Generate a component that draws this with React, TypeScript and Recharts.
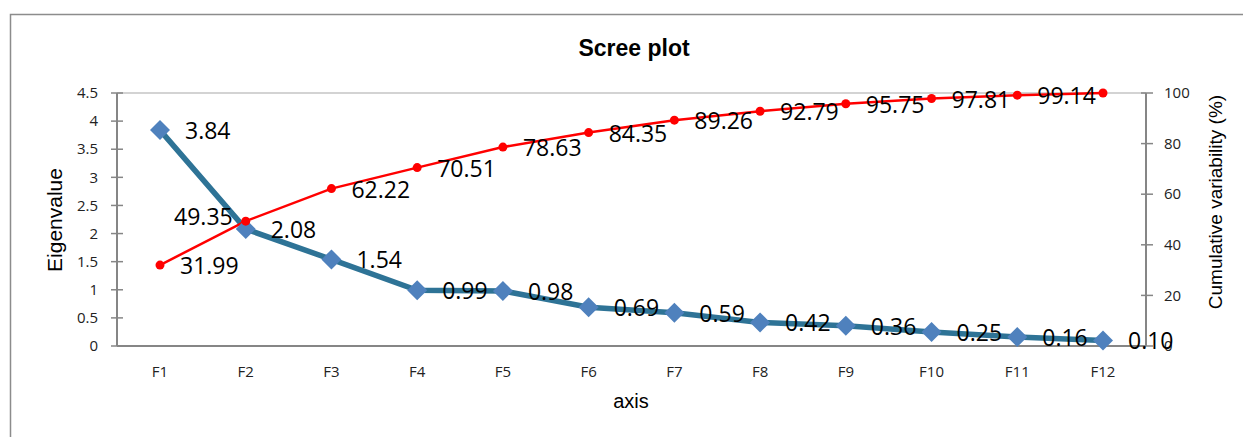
import { LineChart, Line, XAxis, YAxis, ReferenceLine, LabelList } from "recharts";

const factors = ["F1", "F2", "F3", "F4", "F5", "F6", "F7", "F8", "F9", "F10", "F11", "F12"];
const eigenvalues = [3.84, 2.08, 1.54, 0.99, 0.98, 0.69, 0.59, 0.42, 0.36, 0.25, 0.16, 0.1];
const cumulative = [31.99, 49.35, 62.22, 70.51, 78.63, 84.35, 89.26, 92.79, 95.75, 97.81, 99.14, 100];
const eigenTicks = [0, 0.5, 1, 1.5, 2, 2.5, 3, 3.5, 4, 4.5];
const cumulTicks = [0, 20, 40, 60, 80, 100];

const data = factors.map((f, i) => ({
  factor: f,
  eigen: eigenvalues[i],
  cumul: cumulative[i],
}));

const AXIS = "#868686";
const TICK_FONT = "'Open Sans', sans-serif";
const TITLE_FONT = "'Liberation Sans', Arial, sans-serif";

const LeftTick = (props: any) => {
  const { x, y, payload } = props;
  return (
    <g>
      <line x1={x + 13} x2={x + 25} y1={y} y2={y} stroke={AXIS} strokeWidth={1.5} />
      <text x={x} y={y} dy="0.35em" textAnchor="end" fontSize={15} fontFamily={TICK_FONT} fill="#222">
        {payload.value}
      </text>
    </g>
  );
};

const RightTick = (props: any) => {
  const { x, y, payload } = props;
  return (
    <g>
      <line x1={x - 23} x2={x - 11} y1={y} y2={y} stroke={AXIS} strokeWidth={1.5} />
      <text x={x} y={y} dy="0.35em" textAnchor="start" fontSize={15} fontFamily={TICK_FONT} fill="#222">
        {payload.value}
      </text>
    </g>
  );
};

const renderDiamond = (props: any) => {
  const { cx, cy, index } = props;
  const s = 10;
  return (
    <path
      key={`d-${index}`}
      d={`M${cx},${cy - s} L${cx + s},${cy} L${cx},${cy + s} L${cx - s},${cy} Z`}
      fill="#4f81bd"
    />
  );
};

const eigenLabel = (props: any) => {
  const { x, y, value, index } = props;
  return (
    <text key={`el-${index}`} x={x + 25} y={y + 1} dy="0.35em" fontSize={23} fontFamily={TICK_FONT} fill="#000">
      {Number(value).toFixed(2)}
    </text>
  );
};

const cumulLabel = (props: any) => {
  const { x, y, value, index } = props;
  if (index === factors.length - 1) return null;
  const left = index === 1;
  return (
    <text
      key={`cl-${index}`}
      x={left ? x - 13 : x + 20}
      y={left ? y - 4.5 : y + 1}
      dy="0.35em"
      textAnchor={left ? "end" : "start"}
      fontSize={23}
      fontFamily={TICK_FONT}
      fill="#000"
    >
      {Number(value).toFixed(2)}
    </text>
  );
};

export default function App() {
  return (
    <div style={{ position: "absolute", left: 0, top: 0, background: "#fff" }}>
      <LineChart
        width={1243}
        height={437}
        data={data}
        margin={{ top: 93, right: 37, left: 57, bottom: 51 }}
      >
        <path d="M10.5,437 V14.5 H1243" fill="none" stroke="#8c8c8c" strokeWidth={1.5} />
        <text x={634} y={56} textAnchor="middle" fontSize={23} fontWeight="bold" fontFamily={TITLE_FONT} fill="#000">
          Scree plot
        </text>
        <text x={631} y={408} textAnchor="middle" fontSize={20} fontFamily={TITLE_FONT} fill="#000">
          axis
        </text>
        <text
          x={62}
          y={220}
          transform="rotate(-90 62 220)"
          textAnchor="middle"
          fontSize={21}
          fontFamily={TITLE_FONT}
          fill="#000"
        >
          Eigenvalue
        </text>
        <text
          x={1222}
          y={202}
          transform="rotate(-90 1222 202)"
          textAnchor="middle"
          fontSize={19}
          fontFamily={TITLE_FONT}
          fill="#000"
        >
          Cumulative variability (%)
        </text>
        <XAxis
          dataKey="factor"
          padding={{ left: 43, right: 43 }}
          height={40}
          tickLine={false}
          tickSize={0}
          tickMargin={20}
          axisLine={{ stroke: AXIS, strokeWidth: 2 }}
          tick={{ fontSize: 15, fontFamily: TICK_FONT, fill: "#222" }}
          interval={0}
        />
        <YAxis
          yAxisId="left"
          width={60}
          domain={[0, 4.5]}
          ticks={eigenTicks}
          interval={0}
          tickLine={false}
          tickSize={0}
          tickMargin={19}
          axisLine={{ stroke: AXIS, strokeWidth: 2 }}
          tick={<LeftTick />}
        />
        <YAxis
          yAxisId="right"
          orientation="right"
          width={60}
          domain={[0, 100]}
          ticks={cumulTicks}
          interval={0}
          tickLine={false}
          tickSize={0}
          tickMargin={18}
          axisLine={{ stroke: AXIS, strokeWidth: 2 }}
          tick={<RightTick />}
        />
        <ReferenceLine yAxisId="left" y={4.5} stroke="#c4c4c4" strokeWidth={1.5} />
        <Line
          yAxisId="left"
          dataKey="eigen"
          stroke="#2e7396"
          strokeWidth={5.5}
          dot={renderDiamond}
          activeDot={false}
          isAnimationActive={false}
        >
          <LabelList dataKey="eigen" content={eigenLabel} />
        </Line>
        <Line
          yAxisId="right"
          dataKey="cumul"
          stroke="#ff0000"
          strokeWidth={2.5}
          dot={{ r: 4.5, fill: "#ff0000", stroke: "#ff0000", strokeWidth: 0 }}
          activeDot={false}
          isAnimationActive={false}
        >
          <LabelList dataKey="cumul" content={cumulLabel} />
        </Line>
      </LineChart>
    </div>
  );
}
